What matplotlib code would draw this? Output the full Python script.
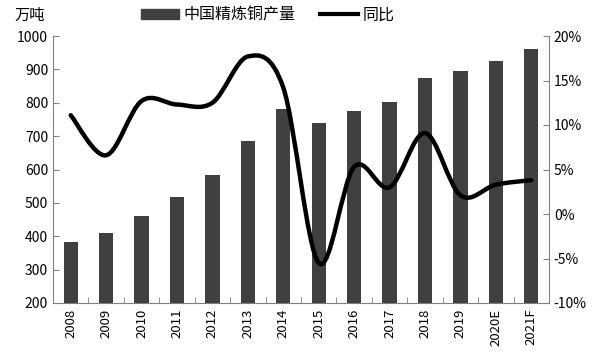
import matplotlib
matplotlib.use("Agg")
import matplotlib.pyplot as plt
from matplotlib.path import Path
from matplotlib.patches import PathPatch, Patch
from matplotlib.lines import Line2D
import numpy as np

plt.rcParams['font.family'] = ['Noto Sans CJK SC', 'DejaVu Sans']

years = ["2008", "2009", "2010", "2011", "2012", "2013", "2014", "2015",
         "2016", "2017", "2018", "2019", "2020E", "2021F"]
output = [383, 410, 460, 517, 583, 685, 781, 739, 776, 802, 873, 895, 925, 960]
yoy = [11.1, 6.6, 12.7, 12.3, 12.5, 17.7, 14.2, -5.5, 5.3, 3.0, 9.1, 2.1, 3.3, 3.8]

bar_color = "#404040"
axis_color = "#808080"

fig = plt.figure(figsize=(6.02, 3.56), dpi=100)
ax = fig.add_axes([53/602, 1-303/356, (549-53)/602, (303-36)/356])
ax2 = ax.twinx()

x = np.arange(len(years))
ax.bar(x, output, width=0.4, color=bar_color, zorder=2)
ax.set_xlim(-0.5, len(years)-0.5)
ax.set_ylim(200, 1000)
ax.set_yticks(range(200, 1001, 100))
ax.set_xticks(x)
ax.set_xticklabels(years, rotation=90, fontsize=9.5)
ax.set_xticks(np.arange(-0.5, len(years), 1), minor=True)
ax.tick_params(axis='x', which='major', length=0, pad=4)
ax.tick_params(axis='x', which='minor', direction='in', length=4, color=axis_color)
ax.tick_params(axis='y', direction='in', length=4, color=axis_color, labelsize=10)

ax2.set_ylim(-10, 20)
ax2.set_yticks(range(-10, 21, 5))
ax2.set_yticklabels([f"{v}%" for v in range(-10, 21, 5)])
ax2.tick_params(axis='y', direction='in', length=4, color=axis_color, labelsize=10)

for a in (ax, ax2):
    a.spines['top'].set_visible(False)
    for s in ('left', 'right', 'bottom'):
        a.spines[s].set_color(axis_color)
ax2.spines['left'].set_visible(False)
ax2.spines['bottom'].set_visible(False)
ax.spines['right'].set_visible(False)

# smoothed line (Catmull-Rom style Bezier, like Excel smoothing)
pts = np.column_stack([x, yoy]).astype(float)
n = len(pts)
verts = [tuple(pts[0])]
codes = [Path.MOVETO]
for i in range(n-1):
    p0 = pts[i-1] if i > 0 else pts[i]
    p1 = pts[i]
    p2 = pts[i+1]
    p3 = pts[i+2] if i+2 < n else pts[i+1]
    c1 = p1 + (p2 - p0) / 6.0
    c2 = p2 - (p3 - p1) / 6.0
    verts += [tuple(c1), tuple(c2), tuple(p2)]
    codes += [Path.CURVE4]*3
path = Path(verts, codes)
ax2.add_patch(PathPatch(path, facecolor='none', edgecolor='black', lw=3.2,
                        capstyle='round', joinstyle='round', zorder=3))

handles = [Patch(facecolor=bar_color, edgecolor=bar_color),
           Line2D([0], [0], color='black', lw=3)]
fig.legend(handles, ["中国精炼铜产量", "同比"], loc='center', bbox_to_anchor=(0.445, 0.958),
           ncol=2, frameon=False, fontsize=11.5, handlelength=2.4, handleheight=0.6,
           columnspacing=1.5, handletextpad=0.3)
fig.text(14/602, 0.958, "万吨", fontsize=11, va='center', ha='left')

fig.savefig("out.png", dpi=100)
